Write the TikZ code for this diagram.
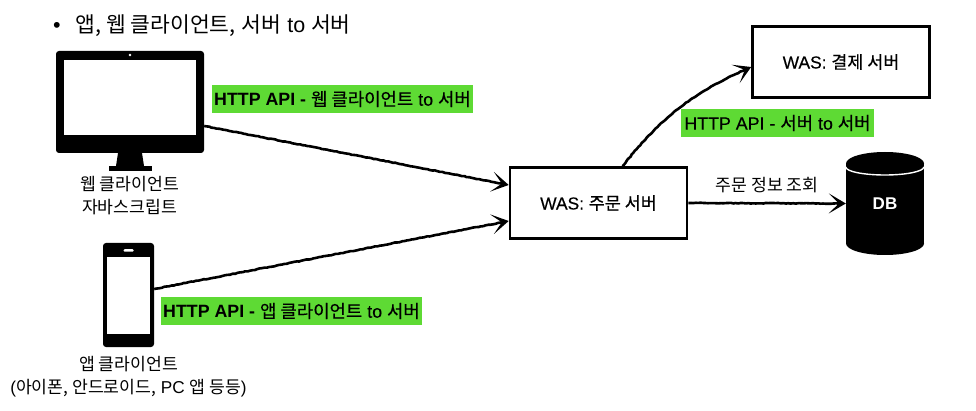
\documentclass[tikz,border=0pt]{standalone}
\usepackage{fontspec}
\setmainfont{Liberation Sans}
\newfontfamily\kr{Noto Sans CJK KR}
\newfontfamily\krm[FakeBold=0.35]{Noto Sans CJK KR}
\newfontfamily\lsm[FakeBold=0.35]{Liberation Sans}
\newcommand{\ko}[1]{{\kr #1}}
\newcommand{\kom}[1]{{\krm #1}}
\usepackage{xcolor}
\usepackage{tikz}
\usetikzlibrary{shapes.geometric, positioning, arrows.meta, calc, decorations.pathmorphing}
\definecolor{apigreen}{RGB}{94, 218, 52}

\begin{document}
\begin{tikzpicture}[
        x=1pt, y=-1pt,
        >={Stealth[length=17pt, width=20pt, inset=10pt]},
        % Boxes for the servers
        server/.style={
            draw,
            line width=2.6pt,
            minimum width=177pt,
            minimum height=71pt,
            inner sep=0pt,
            font=\fontsize{17.4}{20}\selectfont
        },
        % Green protocol labels
        api_label/.style={
            fill=apigreen,
            minimum height=28pt,
            inner sep=0pt,
            font=\fontsize{17.8}{20}\selectfont
        },
        % Captions under the devices and on the DB arrow
        caption/.style={
            inner sep=0pt,
            align=center,
            font=\fontsize{17.2}{23.5}\selectfont
        },
        % Black device bodies and their white screens
        device/.style={fill=black, rounded corners=3pt, inner sep=0pt},
        screen/.style={fill=white, inner sep=0pt},
        db_end/.style={ellipse, fill=black, inner sep=0pt, minimum width=78pt, minimum height=23pt},
        link/.style={
            ->,
            line width=2.6pt,
            decorate,
            decoration={random steps, segment length=2.5pt, amplitude=0.35pt, post=lineto, post length=8pt}
        }
    ]
    \useasboundingbox (0,0) rectangle (976,411);

    % 1. Heading
    \node (heading) [anchor=west, inner sep=0pt, font=\fontsize{21.5}{25}\selectfont] at (53,26)
        {\textbullet\hspace{15pt}\ko{앱, 웹 클라이언트,} \ko{서버} to \ko{서버}};

    % 2. Monitor
    \node (monitor) [device, minimum width=148pt, minimum height=102pt] at (130,102) {};
    \node (monitor_screen) [screen, minimum width=132pt, minimum height=75pt] at (130,97.5) {};
    \node (camera) [circle, fill=white, inner sep=0pt, minimum size=2.6pt] at (130,55) {};
    \fill (118,153) -- (142,153) -- (144,166) -- (116,166) -- cycle;
    \node (monitor_foot) [fill=black, inner sep=0pt, minimum width=43pt, minimum height=5pt] at (130.5,168.5) {};
    \node (web_caption) [caption] at (129.5,195.5) {\ko{웹 클라이언트}\\[-0.5pt]\ko{자바스크립트}};

    % 3. Phone
    \node (phone) [device, minimum width=51pt, minimum height=104pt] at (128.5,295) {};
    \node (phone_screen) [screen, minimum width=43pt, minimum height=77pt] at (128.5,295.5) {};
    \node (speaker) [fill=white, rounded corners=1pt, inner sep=0pt, minimum width=10pt, minimum height=2.5pt] at (128.5,250.5) {};
    \node (app_caption) [caption] at (128.5,377) {\ko{앱 클라이언트}\\[-0.5pt](\ko{아이폰, 안드로이드,} PC \ko{앱 등등})};

    % 4. Servers and database
    \node (order) [server] at (598.5,203) {{\lsm WAS:} \kom{주문 서버}};
    \node (pay) [server] at (841,62) {{\lsm WAS:} \kom{결제 서버}};
    \node (db_top) [db_end] at (885,163.5) {};
    \node (db_bottom) [db_end] at (885,243.5) {};
    \node (db) [fill=black, text=white, inner sep=0pt, minimum width=78pt, minimum height=80pt,
        font=\fontsize{17}{20}\selectfont\bfseries] at (885,203.5) {DB};
    \draw[white, line width=1.4pt] ([yshift=-3.5pt]db_top.west) arc[start angle=180, end angle=360, x radius=39pt, y radius=8pt];

    % 5. Green labels
    \node (api_web) [api_label, minimum width=261pt] at (342.5,99)
        {\textbf{HTTP API -} \kom{웹 클라이언트} {\lsm to} \kom{서버}};
    \node (api_app) [api_label, minimum width=261pt] at (291.5,311)
        {\textbf{HTTP API -} \kom{앱 클라이언트} {\lsm to} \kom{서버}};
    \node (api_server) [api_label, minimum width=193pt] at (777.5,123)
        {{\lsm HTTP API -} \kom{서버} {\lsm to} \kom{서버}};
    \node (lookup) [caption] at (767,185) {\ko{주문 정보 조회}};

    % 6. Connectors
    \draw[link] ([yshift=-24pt]monitor.east) -- ([yshift=18pt]order.west);
    \draw[link] (phone.east |- 0,289) -- ([yshift=-18pt]order.west);
    \draw[link] ([xshift=24pt]order.north) to[bend left=14] ([yshift=-5pt]pay.west);
    \draw[link] (order.east) -- (db.west);

\end{tikzpicture}
\end{document}
